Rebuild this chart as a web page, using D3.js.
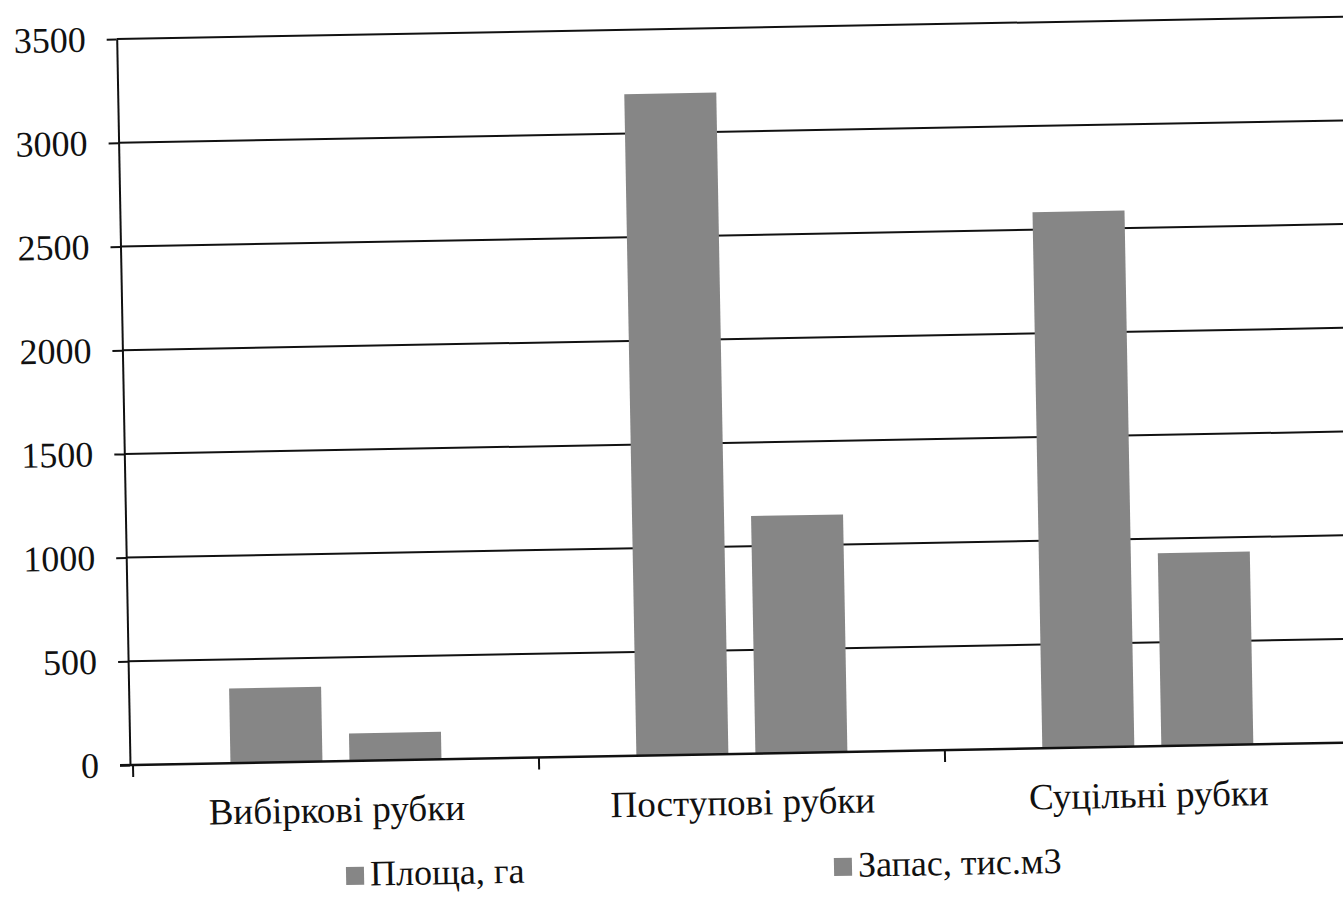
<!DOCTYPE html>
<html>
<head>
<meta charset="utf-8">
<script src="https://cdn.jsdelivr.net/npm/d3@7"></script>
<style>
    body { margin: 0; background: #fff; }
    svg { display: block; }
    .axis text { font-family: "Liberation Serif", "Times New Roman", serif; fill: #111; }
</style>
</head>
<body>
<svg id="chart" width="1343" height="897"></svg>
<script>
// values
let categories = ["Вибіркові рубки", "Поступові рубки", "Суцільні рубки"];
let seriesNames = ["Площа, га", "Запас, тис.м3"];
let area = [360, 3190, 2585];      // Площа, га
let stock = [133, 1145, 930];      // Запас, тис.м3
let yTicks = [0, 500, 1000, 1500, 2000, 2500, 3000, 3500];

let svg = d3.select("#chart");

// origin of the plot (value 0, left edge); scan is tilted a bit
let x0Px = 130, y0Px = 765;
let plotW = 1218, plotH = 726;
let tilt = -1.05;
let serif = "'Liberation Serif', 'Times New Roman', serif";

let g = svg.append("g")
    .attr("transform", "rotate(" + tilt + "," + x0Px + "," + y0Px + ")");

let xScale = d3.scaleBand()
    .domain(categories)
    .range([x0Px + 3, x0Px + 3 + plotW]);

let xInner = d3.scaleBand()
    .domain(seriesNames)
    .range([0, xScale.bandwidth()])
    .paddingInner(0.227)
    .paddingOuter(0.819);

let yScale = d3.scaleLinear()
    .domain([0, 3500])
    .range([y0Px, y0Px - plotH]);

// gridlines
g.append("g")
    .selectAll("line")
    .data(yTicks.filter(d => d > 0))
    .enter().append("line")
    .attr("x1", x0Px)
    .attr("x2", x0Px + plotW + 40)
    .attr("y1", d => yScale(d))
    .attr("y2", d => yScale(d))
    .attr("stroke", "#111")
    .attr("stroke-width", 2);

// bars
let rows = categories.map((c, i) => ({cat: c, values: [area[i], stock[i]]}));

let groups = g.append("g")
    .selectAll("g")
    .data(rows)
    .enter().append("g")
    .attr("transform", d => "translate(" + xScale(d.cat) + ",0)");

groups.selectAll("rect")
    .data(d => d.values.map((v, j) => ({name: seriesNames[j], value: v})))
    .enter().append("rect")
    .attr("x", d => xInner(d.name))
    .attr("y", d => yScale(d.value))
    .attr("width", xInner.bandwidth())
    .attr("height", d => y0Px - yScale(d.value))
    .attr("fill", "#868686");

// y axis
let yAxis = d3.axisLeft(yScale)
    .tickValues(yTicks)
    .tickFormat(d3.format("d"))
    .tickSize(10)
    .tickPadding(21)
    .tickSizeOuter(0);

let yG = g.append("g")
    .attr("class", "axis")
    .attr("transform", "translate(" + x0Px + ",0)")
    .call(yAxis);
yG.attr("font-family", serif);
yG.select(".domain").attr("stroke", "#111").attr("stroke-width", 2);
yG.selectAll(".tick line").attr("stroke", "#111").attr("stroke-width", 2);
yG.selectAll("text").style("font-size", "36px");

// x axis line and the ticks between categories
g.append("line")
    .attr("x1", x0Px - 10)
    .attr("x2", x0Px + plotW + 40)
    .attr("y1", y0Px)
    .attr("y2", y0Px)
    .attr("stroke", "#111")
    .attr("stroke-width", 2.5);

g.append("g")
    .selectAll("line")
    .data(categories)
    .enter().append("line")
    .attr("x1", d => xScale(d))
    .attr("x2", d => xScale(d))
    .attr("y1", y0Px)
    .attr("y2", y0Px + 12)
    .attr("stroke", "#111")
    .attr("stroke-width", 2);

let xAxis = d3.axisBottom(xScale)
    .tickSize(0)
    .tickPadding(0);

let xG = g.append("g")
    .attr("class", "axis")
    .attr("transform", "translate(0," + y0Px + ")")
    .call(xAxis);
xG.attr("font-family", serif);
xG.select(".domain").remove();
xG.selectAll("text")
    .attr("y", 61)
    .attr("dy", 0)
    .style("font-size", "37px");

// legend
let legendX = [344, 832];
let legend = g.append("g")
    .attr("class", "axis")
    .attr("font-family", serif)
    .selectAll("g")
    .data(seriesNames)
    .enter().append("g")
    .attr("transform", (d, i) => "translate(" + legendX[i] + "," + (y0Px + 106) + ")");

legend.append("rect")
    .attr("width", 18)
    .attr("height", 18)
    .attr("fill", "#868686");

legend.append("text")
    .attr("x", 24)
    .attr("y", 19)
    .style("font-size", "36px")
    .text(d => d);
</script>
</body>
</html>
